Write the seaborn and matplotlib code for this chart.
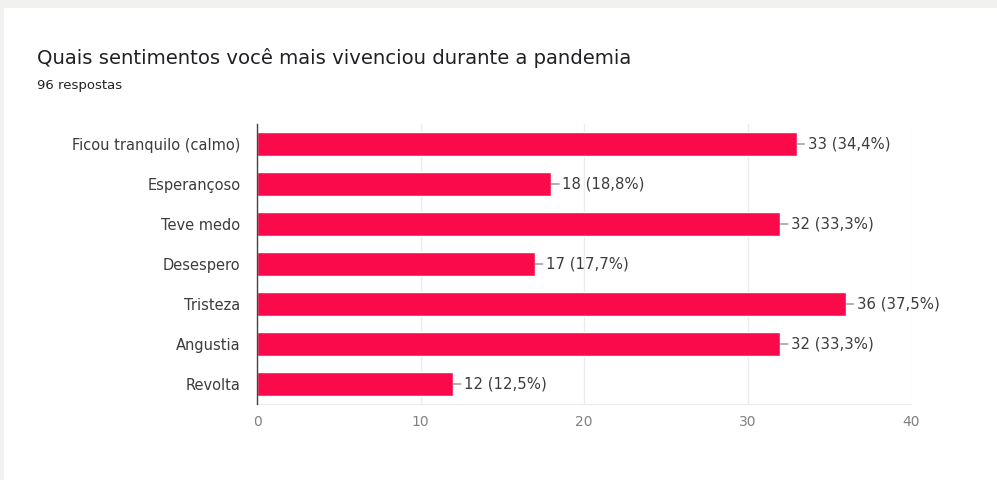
import numpy as np
import pandas as pd
import seaborn as sns
import matplotlib.pyplot as plt

categorias = ['Ficou tranquilo (calmo)', 'Esperançoso', 'Teve medo', 'Desespero',
              'Tristeza', 'Angustia', 'Revolta']
respostas = [33, 18, 32, 17, 36, 32, 12]
total = 96
xticks = [0, 10, 20, 30, 40]

df = pd.DataFrame({'cat': categorias, 'n': respostas})

sns.set_style("white")
plt.rcParams['font.family'] = ['DejaVu Sans']

fig = plt.figure(figsize=(9.97, 4.8), dpi=100)
fig.patch.set_facecolor('#f1f1ef')
# white card
fig.add_artist(plt.Rectangle((4 / 997, 0), 1, 1 - 8 / 480, transform=fig.transFigure,
                             facecolor='white', edgecolor='none', zorder=0))

ax = fig.add_axes([257 / 997, 1 - 404 / 480, 654 / 997, 280 / 480])
ax.set_facecolor('none')
sns.barplot(data=df, x='n', y='cat', color='#fb0a4b', saturation=1, width=0.6, ax=ax, zorder=3)

ax.set_xlim(0, 40)
ax.set_xticks(xticks)
ax.set_xticklabels([str(t) for t in xticks], color='#808080', fontsize=10)
ax.tick_params(axis='x', length=0, pad=8)
ax.tick_params(axis='y', length=0, pad=12)
for lab in ax.get_yticklabels():
    lab.set_fontsize(10.5)
    lab.set_color('#3c3c3c')
ax.set_xlabel('')
ax.set_ylabel('')
ax.grid(axis='x', color='#ececec', linewidth=1, zorder=0)
for s in ['top', 'right']:
    ax.spines[s].set_visible(False)
ax.spines['bottom'].set_color('#ececec')
ax.spines['left'].set_color('#444444')
ax.spines['left'].set_linewidth(1)
ax.spines['left'].set_zorder(4)

for i, v in enumerate(respostas):
    pct = f"{100 * v / total:.1f}".replace('.', ',')
    ax.annotate(f"{v} ({pct}%)", xy=(v, i), xytext=(8, 0), textcoords='offset points',
                ha='left', va='center', fontsize=10.7, color='#3c3c3c',
                arrowprops=dict(arrowstyle='-', color='#777777', lw=0.8,
                                shrinkA=0, shrinkB=0))

fig.text(37 / 997, 1 - 58 / 480, 'Quais sentimentos você mais vivenciou durante a pandemia',
         fontsize=14.1, color='#202124', va='center', ha='left')
fig.text(37 / 997, 1 - 86 / 480, '96 respostas', fontsize=9.5, color='#202124',
         va='center', ha='left')

fig.savefig('out.png', dpi=100, facecolor=fig.get_facecolor())
